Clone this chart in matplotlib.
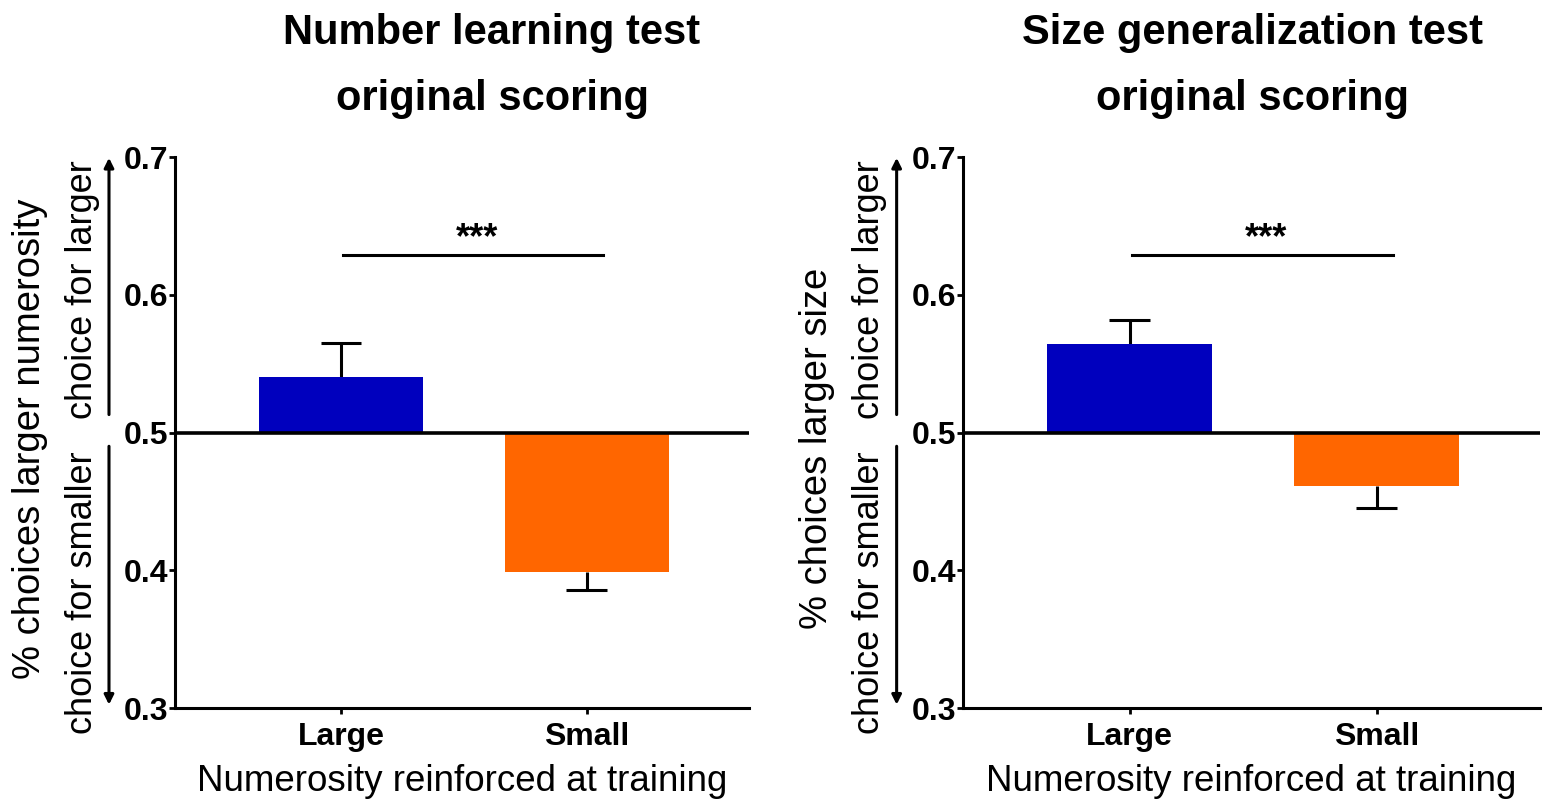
import matplotlib
matplotlib.use("Agg")
import matplotlib.pyplot as plt
import numpy as np

plt.rcParams['font.family'] = ['Liberation Sans', 'DejaVu Sans']

# data
groups = ["Large", "Small"]
num_means = [0.540, 0.399]
num_sem = [0.025, 0.013]
size_means = [0.564, 0.461]
size_sem = [0.018, 0.016]

titles = [("Number learning test", "original scoring"),
          ("Size generalization test", "original scoring")]
ylabels = ["% choices larger numerosity", "% choices larger size"]
xlabel = "Numerosity reinforced at training"
colors = ["#0000BE", "#FF6600"]
yticks = [0.3, 0.4, 0.5, 0.6, 0.7]
sig_label = "***"

fig = plt.figure(figsize=(15.52, 8.01), dpi=100)
ax1 = fig.add_axes([175/1552, 1 - 708/801, 574/1552, 551/801])
ax2 = fig.add_axes([963/1552, 1 - 708/801, 577/1552, 551/801])

panels = [(ax1, num_means, num_sem), (ax2, size_means, size_sem)]
title_x = [492/1552, 1253/1552]
ylabel_y = [0.488, 0.472]

for k, (ax, means, sem) in enumerate(panels):
    x = np.arange(len(groups))
    means = np.array(means)
    sem = np.array(sem)
    heights = means - 0.5
    ax.bar(x, heights, bottom=0.5, width=0.667, color=colors, zorder=2)

    # one-sided error bars, pointing away from 0.5
    tips = means + np.sign(heights) * sem
    ax.vlines(x, means, tips, color="black", lw=2.2, zorder=1)
    ax.hlines(tips, x - 0.083, x + 0.083, color="black", lw=2.2, zorder=1)

    ax.axhline(0.5, color="black", lw=2.6, zorder=3)

    ax.set_xlim(-0.675, 1.66)
    ax.set_ylim(0.3, 0.7)
    ax.set_yticks(yticks)
    ax.set_yticklabels([f"{v:.1f}" for v in yticks], fontsize=23, fontweight="bold")
    ax.set_xticks(x)
    ax.set_xticklabels(groups, fontsize=23, fontweight="bold")
    ax.tick_params(axis="y", length=4, width=2, pad=1)
    ax.tick_params(axis="x", length=4, width=2, pad=6)
    ax.spines["top"].set_visible(False)
    ax.spines["right"].set_visible(False)
    ax.spines["left"].set_linewidth(2.2)
    ax.spines["bottom"].set_linewidth(2.2)

    ax.set_xlabel(xlabel, fontsize=26.5, labelpad=8.5)
    ax.set_ylabel(ylabels[k], fontsize=27.5)
    ax.yaxis.set_label_coords(-0.222, ylabel_y[k])

    # significance bracket
    ax.plot([0.01, 1.065], [0.629, 0.629], color="black", lw=2.2)
    ax.text(0.553, 0.628, sig_label, ha="center", va="bottom", fontsize=26,
            fontweight="bold")

    # direction arrows
    tr = ax.get_yaxis_transform()
    ax.annotate("", xy=(-0.115, 0.7014), xytext=(-0.115, 0.511), xycoords=tr,
                textcoords=tr, arrowprops=dict(arrowstyle="-|>", lw=2.2,
                                               color="black", mutation_scale=14))
    ax.annotate("", xy=(-0.115, 0.3004), xytext=(-0.115, 0.492), xycoords=tr,
                textcoords=tr, arrowprops=dict(arrowstyle="-|>", lw=2.2,
                                               color="black", mutation_scale=14))
    ax.text(-0.162, 0.604, "choice for larger", transform=tr, rotation=90,
            ha="center", va="center", fontsize=26)
    ax.text(-0.162, 0.384, "choice for smaller", transform=tr, rotation=90,
            ha="center", va="center", fontsize=26)

    fig.text(title_x[k], 1 - 44/801, titles[k][0], ha="center", va="baseline",
             fontsize=30, fontweight="bold")
    fig.text(title_x[k], 1 - 110/801, titles[k][1], ha="center", va="baseline",
             fontsize=30, fontweight="bold")

fig.savefig("out.png", dpi=100)
